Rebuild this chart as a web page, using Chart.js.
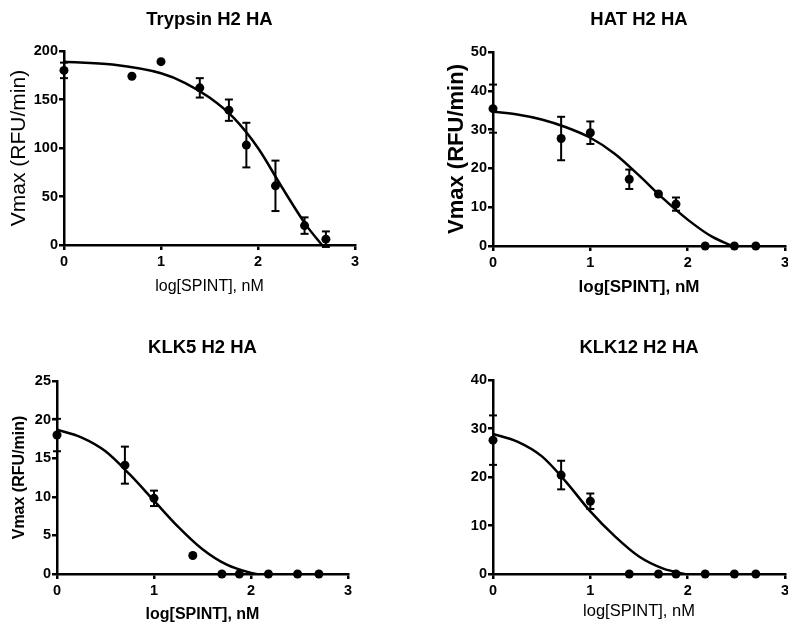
<!DOCTYPE html>
<html>
<head>
<meta charset="utf-8">
<script src="https://cdn.jsdelivr.net/npm/chart.js@4.4.1/dist/chart.umd.min.js"></script>
<style>
  body { margin: 0; background: #fff; }
  #wrap { position: relative; width: 788px; height: 629px; overflow: hidden; background: #fff; }
  canvas { position: absolute; }
</style>
</head>
<body>
<div id="wrap">
  <canvas id="trypsin" width="394" height="300" style="left:0;top:0"></canvas>
  <canvas id="hat" width="400" height="300" style="left:394px;top:0"></canvas>
  <canvas id="klk5" width="394" height="319" style="left:0;top:310px"></canvas>
  <canvas id="klk12" width="400" height="319" style="left:394px;top:310px"></canvas>
</div>
<script>
// log[SPINT] doses, same for every panel
var doses = [0, 0.7, 1, 1.4, 1.7, 1.88, 2.18, 2.48, 2.7];

// Trypsin H2 HA
var trypsinMean = [180, 174, 189, 162, 139, 103, 61, 20, 6];
var trypsinErr  = [8, 0, 0, 10, 11, 23, 26, 8.5, 8];
var trypsinFitX = [0, 0.5, 1, 1.25, 1.5, 1.75, 2, 2.25, 2.5, 2.66];
var trypsinFitY = [189, 186, 177, 167, 152, 131, 100, 59, 20, 0];

// HAT H2 HA
var hatMean = [35.4, 27.7, 29.2, 17.2, 13.4, 10.8, 0, 0, 0];
var hatErr  = [6.2, 5.6, 2.9, 2.5, 0, 1.7, 0, 0, 0];
var hatFitX = [0, 0.25, 0.5, 0.75, 1, 1.25, 1.5, 1.75, 2, 2.25, 2.46];
var hatFitY = [34.6, 33.9, 32.6, 30.6, 27.9, 23.8, 18.2, 12.2, 6.8, 2.4, 0];

// KLK5 H2 HA
var klk5Mean = [18.0, 14.1, 9.8, 2.4, 0, 0, 0, 0, 0];
var klk5Err  = [2.1, 2.4, 1.0, 0, 0, 0, 0, 0, 0];
var klk5FitX = [0, 0.25, 0.5, 0.75, 1, 1.25, 1.5, 1.75, 2, 2.06];
var klk5FitY = [18.7, 17.7, 15.9, 12.9, 9.5, 6.1, 3.2, 1.2, 0.15, 0];

// KLK12 H2 HA
var klk12Mean = [27.6, 20.4, 15.0, 0, 0, 0, 0, 0, 0];
var klk12Err  = [5.1, 2.95, 1.6, 0, 0, 0, 0, 0, 0];
var klk12FitX = [0, 0.25, 0.5, 0.75, 1, 1.25, 1.5, 1.75, 1.97];
var klk12FitY = [28.9, 27.3, 24.3, 19.0, 12.9, 7.8, 3.6, 1.1, 0];

var FONT = '"Liberation Sans", Arial, sans-serif';

function points(xs, ys) {
  return xs.map(function (x, i) { return { x: x, y: ys[i] }; });
}

// two points per bar (low, high) then a gap
function errorBars(xs, mean, err) {
  var out = [];
  for (var i = 0; i < xs.length; i++) {
    if (!err[i]) continue;
    out.push({ x: xs[i], y: mean[i] - err[i] }, { x: xs[i], y: mean[i] + err[i] }, { x: xs[i], y: null });
  }
  return out;
}

function panel(id, p) {
  new Chart(document.getElementById(id), {
    type: 'scatter',
    data: {
      datasets: [
        { type: 'line', data: points(p.fitX, p.fitY), borderColor: '#000', borderWidth: 2.5,
          pointRadius: 0, cubicInterpolationMode: 'monotone', fill: false },
        { type: 'line', data: errorBars(doses, p.mean, p.err), borderColor: '#000', borderWidth: 2,
          pointStyle: 'line', pointRadius: 4, pointBorderColor: '#000', pointBorderWidth: 2,
          spanGaps: false, clip: false },
        { data: points(doses, p.mean), backgroundColor: '#000', borderWidth: 0, pointRadius: 4.5, clip: false }
      ]
    },
    options: {
      responsive: false,
      animation: false,
      devicePixelRatio: 1,
      layout: { padding: { left: 0, top: 0, right: p.padRight, bottom: 0 } },
      plugins: {
        legend: { display: false },
        tooltip: { enabled: false },
        title: {
          display: true, text: p.title, color: '#000', fullSize: false,
          font: { family: FONT, size: 18.5, weight: 'bold' },
          padding: { top: p.titleTop, bottom: p.titleBottom }
        }
      },
      scales: {
        x: {
          type: 'linear', min: 0, max: 3,
          afterFit: function (s) { s.height = p.xHeight; },
          ticks: { stepSize: 1, color: '#000', padding: 3, font: { family: FONT, size: 14.5, weight: 'bold' } },
          grid: { drawOnChartArea: false, drawTicks: true, tickLength: 5, color: '#000', lineWidth: 2.5 },
          border: { display: true, color: '#000', width: 2.5 },
          title: {
            display: true, text: 'log[SPINT], nM', color: '#000',
            font: { family: FONT, size: p.xTitleSize, weight: p.xTitleWeight },
            padding: { top: 0, bottom: p.xTitlePad }
          }
        },
        y: {
          type: 'linear', min: 0, max: p.yMax,
          afterFit: function (s) { s.width = p.yWidth; },
          ticks: { stepSize: p.yStep, color: '#000', padding: 1, font: { family: FONT, size: 14.5, weight: 'bold' } },
          grid: { drawOnChartArea: false, drawTicks: true, tickLength: 5, color: '#000', lineWidth: 2.5 },
          border: { display: true, color: '#000', width: 2.5 },
          title: {
            display: p.yTitle, text: 'Vmax (RFU/min)', color: '#000',
            font: { family: FONT, size: p.yTitleSize, weight: p.yTitleWeight },
            padding: { top: p.yTitlePad, bottom: 0 }
          }
        }
      }
    }
  });
}

panel('trypsin', {
  title: 'Trypsin H2 HA', mean: trypsinMean, err: trypsinErr, fitX: trypsinFitX, fitY: trypsinFitY,
  yMax: 200, yStep: 50, yWidth: 64, xHeight: 55, padRight: 39, titleTop: 8.9, titleBottom: 19.9,
  xTitleSize: 16, xTitleWeight: 'normal', xTitlePad: 3.4,
  yTitle: true, yTitleSize: 21, yTitleWeight: 'normal', yTitlePad: 6.4
});

panel('hat', {
  title: 'HAT H2 HA', mean: hatMean, err: hatErr, fitX: hatFitX, fitY: hatFitY,
  yMax: 50, yStep: 10, yWidth: 99, xHeight: 54, padRight: 9, titleTop: 8.9, titleBottom: 20.9,
  xTitleSize: 17, xTitleWeight: 'bold', xTitlePad: 2.8,
  yTitle: true, yTitleSize: 22, yTitleWeight: 'bold', yTitlePad: 49.8
});

panel('klk5', {
  title: 'KLK5 H2 HA', mean: klk5Mean, err: klk5Err, fitX: klk5FitX, fitY: klk5FitY,
  yMax: 25, yStep: 5, yWidth: 57, xHeight: 55, padRight: 46, titleTop: 26.9, titleBottom: 21.9,
  xTitleSize: 16, xTitleWeight: 'bold', xTitlePad: 4.4,
  yTitle: true, yTitleSize: 16, yTitleWeight: 'bold', yTitlePad: 10.4
});

panel('klk12', {
  title: 'KLK12 H2 HA', mean: klk12Mean, err: klk12Err, fitX: klk12FitX, fitY: klk12FitY,
  yMax: 40, yStep: 10, yWidth: 99, xHeight: 55, padRight: 9, titleTop: 26.9, titleBottom: 20.9,
  xTitleSize: 16.5, xTitleWeight: 'normal', xTitlePad: 8.1,
  yTitle: false, yTitleSize: 16, yTitleWeight: 'bold', yTitlePad: 0
});
</script>
</body>
</html>
